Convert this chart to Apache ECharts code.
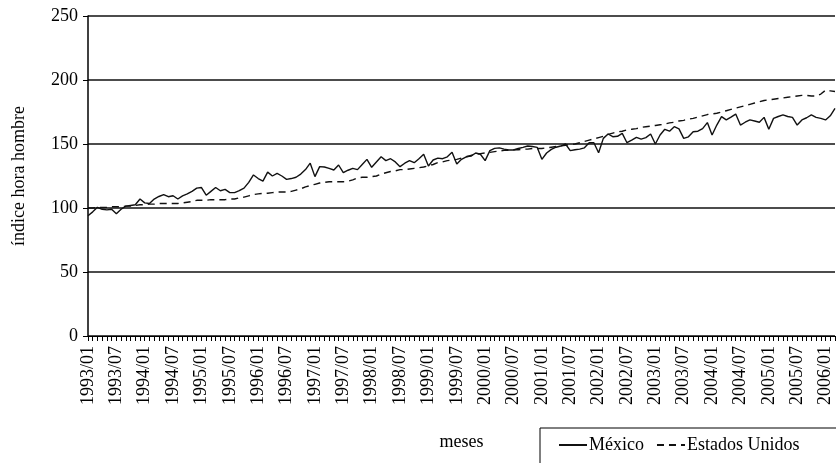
<!DOCTYPE html>
<html lang="es">
<head>
    <meta charset="UTF-8">
    <title>índice hora hombre</title>
    <script src="https://cdn.jsdelivr.net/npm/echarts/dist/echarts.min.js"></script>
    <style>
        html, body { margin: 0; padding: 0; background: #fff; overflow: hidden; }
    </style>
</head>
<body>
<div id="main" style="width: 836px;height:463px;"></div>
<script type="text/javascript">
    // meses 1993/01 - 2006/03
    var startYear = 1993;
    var nMonths = 159;
    var meses = [];
    for (var k = 0; k < nMonths; k++) {
        var y = startYear + Math.floor(k / 12);
        var m = (k % 12) + 1;
        meses.push(y + '/' + (m < 10 ? '0' + m : m));
    }

    var mexico = [
        94, 97, 100.5, 99, 98.5, 99, 95.5, 99, 101.5, 102, 102.5, 107,
        104, 103.5, 107, 109, 110.5, 108.8, 109.6, 107, 109.5, 111, 113, 115.5,
        116, 110, 113, 116, 113.5, 114.5, 112, 112, 113.5, 115.5, 120, 125.8,
        123, 121, 128, 125, 127, 125, 122.4, 123, 124, 126.5, 130, 135,
        124.5, 132.3, 132, 131, 129.7, 133.6, 127.6, 129.5, 131, 130, 134, 138,
        131.8, 136, 140, 137, 138.5, 136, 132.3, 135, 137, 135.4, 138.5, 142,
        132.8, 137.5, 139, 138.5, 140, 143.5, 134.4, 138, 140, 140.5, 143, 142,
        137, 144.8, 146.6, 147, 146, 145.3, 145.3, 146.5, 147.4, 148.4, 148, 147.4,
        138, 143, 145.8, 147.5, 148.4, 150, 144.8, 145.5, 146, 147, 151, 151,
        143.2, 154.4, 157.8, 155.7, 156, 158.3, 151, 153, 155.2, 153.8, 155, 157.8,
        150, 157, 161.5, 160, 163.5, 161.8, 154.4, 155.6, 159.6, 160, 162, 166.7,
        157, 164.8, 171.4, 168.8, 171, 173.4, 164.8, 167, 168.8, 168, 167, 170.8,
        161.5, 170, 171.5, 172.7, 171.5, 170.8, 164.8, 168.8, 170.5, 172.7, 170.8, 170,
        168.8, 172, 177.8
    ];

    var estadosUnidos = [
        100, 100, 100.5, 100.5, 100.5, 101, 101, 101, 101.5, 101.5, 102, 102.5,
        102.5, 103, 103, 103.5, 103.5, 103.5, 103.5, 103.5, 104, 104.5, 105, 106,
        106, 106, 106.5, 106.5, 106.5, 106.5, 107, 107, 108, 108.5, 109.5, 110.5,
        111, 111.5, 111.5, 112, 112.5, 112.5, 112.5, 113, 114, 115, 116.5, 117.5,
        118.5, 119.5, 120, 120.5, 120.5, 120.5, 120.5, 121, 122, 123.5, 124, 124,
        124.5, 125, 126.5, 127.5, 128.5, 129, 130, 130, 130.5, 131, 131.5, 132,
        133, 134, 135.5, 136, 137, 137.5, 138, 139, 140, 141, 142, 142.5,
        143, 143.5, 144, 144.5, 145, 145, 145.5, 145.5, 146, 146, 146.5, 146.5,
        146.5, 147, 147.5, 148, 148.5, 149, 149.5, 150, 151, 152, 153, 154,
        155, 156, 157.5, 158.5, 159.5, 160, 161, 161.5, 162, 163, 163.5, 164,
        164.5, 165, 165.5, 166.5, 167, 168, 168.5, 169.5, 170, 171, 172, 173,
        173.5, 174, 175, 176, 177, 178, 179, 180, 181, 182, 183, 184,
        184.5, 185, 185.5, 186, 186.5, 187, 187.5, 188, 188, 187.5, 187.5, 189,
        192, 191.5, 191
    ];

    var yTicks = { min: 0, max: 250, interval: 50 };

    var chart = echarts.init(document.getElementById('main'));
    var serif = '"Liberation Serif", "DejaVu Serif", serif';

    chart.setOption({
        animation: false,
        backgroundColor: '#fff',
        textStyle: { fontFamily: serif, color: '#000' },
        grid: { left: 88, right: 1, top: 16, bottom: 127, outerBoundsMode: 'none', containLabel: false },
        legend: {
            left: 540,
            top: 428,
            width: 400,
            padding: [8, 40, 30, 18],
            borderColor: '#000',
            borderWidth: 1,
            itemWidth: 28,
            itemHeight: 12,
            itemGap: 12,
            itemStyle: { opacity: 0 },
            textStyle: { fontFamily: serif, fontSize: 18, color: '#000', padding: [0, 0, 0, -3] },
            data: ['México', 'Estados Unidos']
        },
        xAxis: {
            type: 'category',
            data: meses,
            boundaryGap: false,
            name: 'meses',
            nameLocation: 'middle',
            nameGap: 97,
            nameTextStyle: { fontFamily: serif, fontSize: 18, color: '#000' },
            axisLine: { lineStyle: { color: '#000', width: 1 } },
            axisTick: { interval: 0, length: 5, lineStyle: { color: '#000' } },
            axisLabel: {
                interval: 5,
                rotate: 90,
                margin: 10,
                fontFamily: serif,
                fontSize: 18,
                color: '#000'
            },
            splitLine: { show: false }
        },
        yAxis: {
            type: 'value',
            min: yTicks.min,
            max: yTicks.max,
            interval: yTicks.interval,
            name: 'índice hora hombre',
            nameLocation: 'middle',
            nameGap: 60,
            nameTextStyle: { fontFamily: serif, fontSize: 18, color: '#000' },
            axisLine: { show: true, lineStyle: { color: '#000', width: 1.5 } },
            axisTick: { show: true, length: 5, lineStyle: { color: '#000' } },
            axisLabel: { fontFamily: serif, fontSize: 18, color: '#000', margin: 10 },
            splitLine: { show: true, lineStyle: { color: '#111', width: 1.5 } }
        },
        series: [
            {
                name: 'México',
                type: 'line',
                data: mexico,
                symbol: 'none',
                lineStyle: { color: '#111', width: 1.4, type: 'solid' },
                itemStyle: { color: '#111' }
            },
            {
                name: 'Estados Unidos',
                type: 'line',
                data: estadosUnidos,
                symbol: 'none',
                lineStyle: { color: '#111', width: 1.4, type: [7, 5] },
                itemStyle: { color: '#111' }
            }
        ]
    });
</script>
</body>
</html>
